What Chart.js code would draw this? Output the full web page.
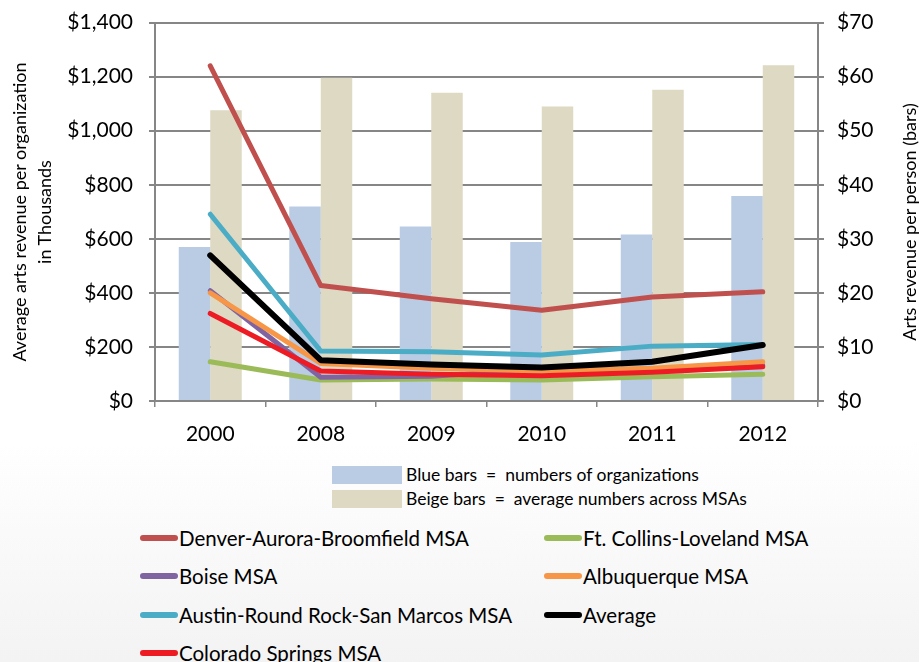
<!DOCTYPE html>
<html>
<head>
<meta charset="utf-8">
<script src="https://cdn.jsdelivr.net/npm/chart.js@4"></script>
<style>
  html, body { margin:0; padding:0; }
  body { width:919px; height:662px; overflow:hidden; position:relative;
         background: linear-gradient(to bottom, #ffffff 0px, #ffffff 440px, #f3f3f3 662px);
         font-family: Lato, "Open Sans", sans-serif; color:#000; }
  #wrap { position:absolute; left:0; top:-6px; width:919px; height:460px; }
  .ytitle { position:absolute; font-size:18px; white-space:nowrap; text-align:center; line-height:24px;
            transform-origin:center center; }
  .leg { position:absolute; white-space:pre; }
  .box { position:absolute; width:70px; height:18px; }
  .ln { position:absolute; width:38px; height:6px; border-radius:3px; }
  .lt { position:absolute; font-size:20.5px; line-height:24px; white-space:nowrap; }
</style>
</head>
<body>
<div id="wrap"><canvas id="c" width="919" height="460"></canvas></div>
<div class="ytitle" id="lt" style="left:-148px; top:187px; width:360px; line-height:25px;">Average arts revenue per organization<br>in Thousands</div>
<div class="ytitle" id="rt" style="left:759px; top:210px; width:300px;">Arts revenue per person (bars)</div>
<div id="barleg"></div>
<div id="lineleg"></div>
<script>
const categories = ["2000", "2008", "2009", "2010", "2011", "2012"];
const denver      = [1240, 427, 378, 336, 385, 404];
const ftCollins   = [145, 78, 81, 78, 90, 99];
const boise       = [408, 88, 92, 118, 110, 132];
const albuquerque = [400, 139, 121, 111, 121, 145];
const austin      = [691, 185, 182, 170, 203, 209];
const average     = [539, 151, 135, 124, 145, 207];
const coloSprings = [324, 111, 99, 93, 106, 127];
const blueBars    = [28.5, 36.0, 32.3, 29.4, 30.8, 37.9];
const beigeBars   = [53.8, 59.8, 57.0, 54.5, 57.6, 62.1];
const leftTicks   = [0, 200, 400, 600, 800, 1000, 1200, 1400];
const rightTicks  = [0, 10, 20, 30, 40, 50, 60, 70];

const lineSeries = [
  { label: "Denver-Aurora-Broomfield MSA", data: denver, color: "#C0504D", w: 5, order: 7 },
  { label: "Ft. Collins-Loveland MSA", data: ftCollins, color: "#9BBB59", w: 5, order: 6 },
  { label: "Boise MSA", data: boise, color: "#8064A2", w: 5, order: 5 },
  { label: "Albuquerque MSA", data: albuquerque, color: "#F79646", w: 5, order: 4 },
  { label: "Austin-Round Rock-San Marcos MSA", data: austin, color: "#4BACC6", w: 5, order: 3 },
  { label: "Average", data: average, color: "#000000", w: 6, order: 2 },
  { label: "Colorado Springs MSA", data: coloSprings, color: "#ED1C24", w: 5, order: 1 }
];
const barSeries = [
  { label: "Blue bars  =  numbers of organizations", data: blueBars, color: "#B9CCE4" },
  { label: "Beige bars  =  average numbers across MSAs", data: beigeBars, color: "#DDD9C3" }
];

const GRID = "#868686";
const datasets = [];
lineSeries.forEach(s => datasets.push({
  type: "line", label: s.label, data: s.data, borderColor: s.color, backgroundColor: s.color,
  borderWidth: s.w, pointRadius: 0, tension: 0, yAxisID: "y", order: s.order,
  borderCapStyle: "round", borderJoinStyle: "round"
}));
barSeries.forEach(s => datasets.push({
  type: "bar", label: s.label, data: s.data, backgroundColor: s.color, borderWidth: 0,
  yAxisID: "y1", order: 20, barPercentage: 1.0, categoryPercentage: 0.57
}));

const tickFont = { family: "Lato, 'Open Sans', sans-serif", size: 21 };
new Chart(document.getElementById("c"), {
  data: { labels: categories, datasets },
  options: {
    responsive: false, animation: false,
    layout: { padding: { top: 16, left: 0, right: 0, bottom: 0 } },
    plugins: { legend: { display: false }, tooltip: { enabled: false } },
    scales: {
      x: {
        grid: { display: true, drawOnChartArea: false, drawTicks: true, tickLength: 6, color: GRID, lineWidth: 1.5, offset: true },
        border: { color: GRID, width: 2 },
        ticks: { font: tickFont, color: "#000", padding: 15, maxRotation: 0 },
        afterFit: s => { s.height = 53; }
      },
      y: {
        position: "left", min: 0, max: 1400,
        afterBuildTicks: s => { s.ticks = leftTicks.map(v => ({ value: v })); },
        grid: { color: GRID, lineWidth: 2, tickLength: 6 },
        border: { color: GRID, width: 2 },
        ticks: { font: tickFont, color: "#000", padding: 16,
          callback: v => "$" + v.toLocaleString("en-US") },
        afterFit: s => { s.width = 155; }
      },
      y1: {
        position: "right", min: 0, max: 70,
        afterBuildTicks: s => { s.ticks = rightTicks.map(v => ({ value: v })); },
        grid: { drawOnChartArea: false, color: GRID, lineWidth: 2, tickLength: 6 },
        border: { color: GRID, width: 2 },
        ticks: { font: tickFont, color: "#000", padding: 13, callback: v => "$" + v },
        afterFit: s => { s.width = 101; }
      }
    }
  }
});

document.getElementById("lt").style.transform = "rotate(-90deg)";
document.getElementById("rt").style.transform = "rotate(-90deg)";

const bl = document.getElementById("barleg");
barSeries.forEach((s, i) => {
  const y = 466 + i * 24;
  const b = document.createElement("div"); b.className = "box";
  b.style.left = "332px"; b.style.top = y + "px"; b.style.background = s.color; bl.appendChild(b);
  const t = document.createElement("div"); t.className = "leg";
  t.style.left = "406px"; t.style.top = (y - 1) + "px"; t.style.fontSize = "17.5px"; t.style.lineHeight = "20px";
  t.textContent = s.label; bl.appendChild(t);
});

const ll = document.getElementById("lineleg");
lineSeries.forEach((s, i) => {
  const col = i % 2, row = Math.floor(i / 2);
  const cy = 538 + row * 38.3;
  const lx = col === 0 ? 140 : 544;
  const l = document.createElement("div"); l.className = "ln";
  l.style.left = lx + "px"; l.style.top = (cy - 3) + "px"; l.style.background = s.color; ll.appendChild(l);
  const t = document.createElement("div"); t.className = "lt";
  t.style.left = (lx + 39) + "px"; t.style.top = (cy - 12) + "px"; t.textContent = s.label; ll.appendChild(t);
});
</script>
</body>
</html>
